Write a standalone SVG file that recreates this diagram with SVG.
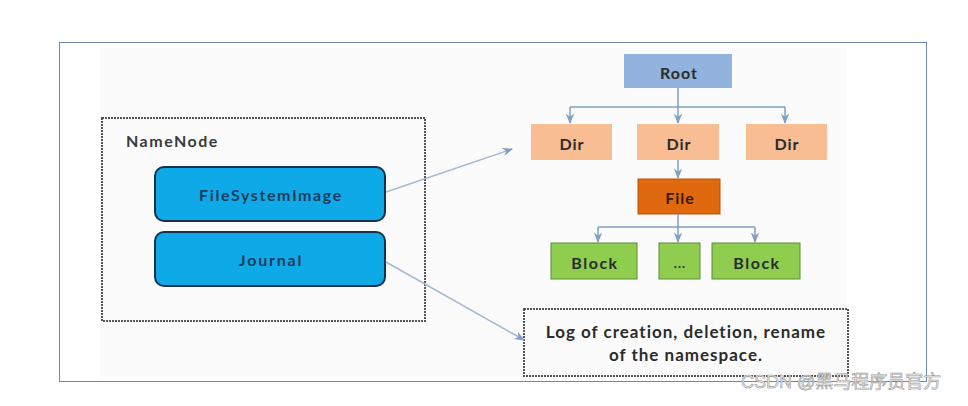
<svg xmlns="http://www.w3.org/2000/svg" width="968" height="406" viewBox="0 0 968 406">
<defs>
<marker id="ah" viewBox="0 0 10 10" refX="9" refY="5" markerWidth="7" markerHeight="7" orient="auto-start-reverse">
<path d="M0,1 L10,5 L0,9 L3,5 Z" fill="#7f9fc4"/>
</marker>
<style>
.t{font-family:Lato,"Open Sans","Liberation Sans",sans-serif;font-weight:bold;fill:#2b2b2b;text-anchor:middle;dominant-baseline:central;font-size:16px;letter-spacing:1px}
.dot{fill:none;stroke:#555;stroke-width:2;stroke-dasharray:2 1}
.blue{fill:#0eaae8;stroke:#17324a;stroke-width:2}
.dir{fill:#f8bd93}
.blk{fill:#8fcd4f;stroke:#5f8a35;stroke-width:1}
.c{fill:none;stroke:#7f9fc4;stroke-width:1.5}
.ca{fill:none;stroke:#a5b8d3;stroke-width:1.5}
</style>
</defs>
<rect x="0" y="0" width="968" height="406" fill="#ffffff"/>
<rect x="59.5" y="42.5" width="867" height="339" fill="#ffffff" stroke="#6a88a8" stroke-width="1"/>
<rect x="100" y="48" width="747" height="329" fill="#fbfbfb"/>

<g id="namenode">
<rect class="dot" x="102" y="118" width="323" height="203"/>
<text class="t" x="126" y="140" style="text-anchor:start;fill:#3a3a3a;letter-spacing:1.5px">NameNode</text>
</g>
<g id="fsimage">
<rect class="blue" x="155" y="167" width="230" height="54" rx="9"/>
<text class="t" x="271" y="194" style="fill:#1d3c5c;letter-spacing:1.6px">FileSystemImage</text>
</g>
<g id="journal">
<rect class="blue" x="155" y="232" width="230" height="54" rx="9"/>
<text class="t" x="271" y="259" style="fill:#1d3c5c;letter-spacing:1.8px">Journal</text>
</g>

<g id="root">
<rect x="624" y="54" width="108" height="34" fill="#92b3dd"/>
<text class="t" x="679" y="72">Root</text>
</g>
<g id="dir1">
<rect class="dir" x="531" y="124" width="81" height="36"/>
<text class="t" x="572" y="143">Dir</text>
</g>
<g id="dir2">
<rect class="dir" x="637" y="124" width="82" height="36"/>
<text class="t" x="679" y="143">Dir</text>
</g>
<g id="dir3">
<rect class="dir" x="746" y="124" width="81" height="36"/>
<text class="t" x="787" y="143">Dir</text>
</g>
<g id="file">
<rect x="638" y="179" width="82" height="35" fill="#e0690f" stroke="#b85208" stroke-width="1"/>
<text class="t" x="680" y="197" style="fill:#3a1a05">File</text>
</g>
<g id="block1">
<rect class="blk" x="551" y="243" width="86" height="36"/>
<text class="t" x="595" y="262" style="letter-spacing:1.5px">Block</text>
</g>
<g id="dots">
<rect class="blk" x="659" y="243" width="41" height="36"/>
<text class="t" x="680" y="263" style="font-size:13px">...</text>
</g>
<g id="block2">
<rect class="blk" x="712" y="243" width="88" height="36"/>
<text class="t" x="757" y="262" style="letter-spacing:1.5px">Block</text>
</g>
<g id="log">
<rect class="dot" x="524" y="309" width="324" height="67"/>
<text class="t" x="686" y="331" style="font-size:17px">Log of creation, deletion, rename</text>
<text class="t" x="686" y="354" style="font-size:17px">of the namespace.</text>
</g>

<g id="connectors">
<path class="c" d="M678,88 V107"/>
<path class="c" d="M570,107 H785"/>
<path class="c" d="M570,107 V123" marker-end="url(#ah)"/>
<path class="c" d="M678,107 V123" marker-end="url(#ah)"/>
<path class="c" d="M785,107 V123" marker-end="url(#ah)"/>
<path class="c" d="M678,160 V178" marker-end="url(#ah)"/>
<path class="c" d="M678,214 V227"/>
<path class="c" d="M598,227 H755"/>
<path class="c" d="M598,227 V242" marker-end="url(#ah)"/>
<path class="c" d="M678,227 V242" marker-end="url(#ah)"/>
<path class="c" d="M755,227 V242" marker-end="url(#ah)"/>
<path class="ca" d="M386,192 L512,149" marker-end="url(#ah)"/>
<path class="ca" d="M386,262 L524,340" marker-end="url(#ah)"/>
</g>

<text x="741" y="388" style="font-family:'Liberation Sans','Noto Sans CJK SC',sans-serif;font-size:18px;fill:#ececec;stroke:#9a9a9a;stroke-width:0.6">CSDN @黑马程序员官方</text>
</svg>
